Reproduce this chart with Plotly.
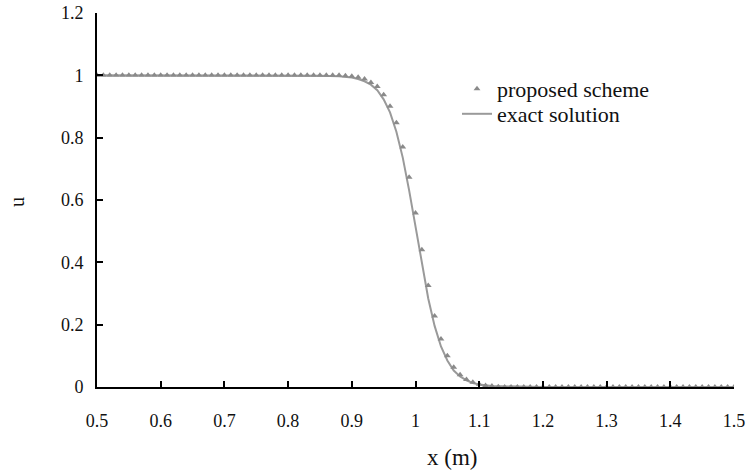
import plotly.graph_objects as go

# Proposed scheme samples (x step 0.01 from 0.5 to 1.5)
prop_x = [round(0.5 + 0.01 * i, 2) for i in range(101)]
prop_u = ([1.0] * 39 +
          [0.999, 0.997, 0.994, 0.988, 0.977, 0.964, 0.938, 0.901, 0.848, 0.770,
           0.673, 0.558, 0.440, 0.326, 0.228, 0.154, 0.100, 0.063, 0.039, 0.024,
           0.015, 0.009, 0.005, 0.003, 0.001] +
          [0.0] * 37)

# Exact solution curve
exact_x = [0.5, 0.8, 0.85, 0.88, 0.90, 0.91, 0.92, 0.93, 0.94, 0.95, 0.96, 0.97,
           0.98, 0.99, 1.00, 1.01, 1.02, 1.03, 1.04, 1.05, 1.06, 1.07, 1.08,
           1.09, 1.10, 1.12, 1.15, 1.2, 1.5]
exact_u = [1.0, 1.0, 0.999, 0.997, 0.993, 0.988, 0.981, 0.970, 0.952, 0.923,
           0.881, 0.819, 0.736, 0.631, 0.512, 0.392, 0.284, 0.196, 0.130, 0.085,
           0.053, 0.034, 0.021, 0.013, 0.008, 0.003, 0.001, 0.0, 0.0]

x_ticks = [0.5, 0.6, 0.7, 0.8, 0.9, 1.0, 1.1, 1.2, 1.3, 1.4, 1.5]
x_tick_labels = ["0.5", "0.6", "0.7", "0.8", "0.9", "1", "1.1", "1.2", "1.3", "1.4", "1.5"]
y_ticks = [0, 0.2, 0.4, 0.6, 0.8, 1.0, 1.2]
y_tick_labels = ["0", "0.2", "0.4", "0.6", "0.8", "1", "1.2"]

FONT = "Liberation Serif, Times New Roman, serif"
L, R, T, B = 97, 13, 13, 84
PW, PH = 747 - L - R, 471 - T - B

def px_x(p):
    return (p - L) / PW

def px_y(p):
    return (471 - B - p) / PH

fig = go.Figure()
fig.add_trace(go.Scatter(
    x=exact_x, y=exact_u, mode="lines", name="exact solution",
    line=dict(color="#9a9a9a", width=2), legend="legend2"))
fig.add_trace(go.Scatter(
    x=prop_x, y=prop_u, mode="markers", name="proposed scheme",
    marker=dict(symbol="triangle-up", size=6, color="#8a8a8a"), legend="legend"))

leg_common = dict(xanchor="left", yanchor="middle", bgcolor="rgba(0,0,0,0)",
                  font=dict(family=FONT, size=22, color="#111"), itemwidth=30)

fig.update_layout(
    width=747, height=471,
    margin=dict(l=L, r=R, t=T, b=B, autoexpand=False),
    paper_bgcolor="white", plot_bgcolor="white",
    font=dict(family=FONT, size=18, color="#111"),
    showlegend=True,
    legend=dict(x=px_x(457), y=px_y(89), **leg_common),
    legend2=dict(x=px_x(457), y=px_y(114), **leg_common),
    xaxis=dict(range=[0.5, 1.5], tickvals=x_ticks, ticktext=x_tick_labels,
               automargin=False,
               showgrid=False, zeroline=False, showline=True, linecolor="black",
               linewidth=2, ticks="inside", ticklen=6, tickwidth=1.5,
               tickcolor="black", ticklabelstandoff=16,
               tickfont=dict(family=FONT, size=18, color="#111")),
    yaxis=dict(range=[0, 1.2], tickvals=y_ticks, ticktext=y_tick_labels,
               automargin=False,
               showgrid=False, zeroline=False, showline=True, linecolor="black",
               linewidth=2, ticks="inside", ticklen=6, tickwidth=1.5,
               tickcolor="black", ticklabelstandoff=8,
               tickfont=dict(family=FONT, size=18, color="#111")),
    annotations=[
        dict(text="x (m)", xref="paper", yref="paper", x=px_x(452), y=px_y(457),
             xanchor="center", yanchor="middle", showarrow=False,
             font=dict(family=FONT, size=23, color="#111")),
        dict(text="u", xref="paper", yref="paper", x=px_x(17), y=px_y(202),
             xanchor="center", yanchor="middle", showarrow=False, textangle=-90,
             font=dict(family=FONT, size=20, color="#111")),
    ],
)

fig.write_html("out.html", config={"displayModeBar": False},
               post_script="document.body.style.margin='0';document.body.style.padding='0';")
